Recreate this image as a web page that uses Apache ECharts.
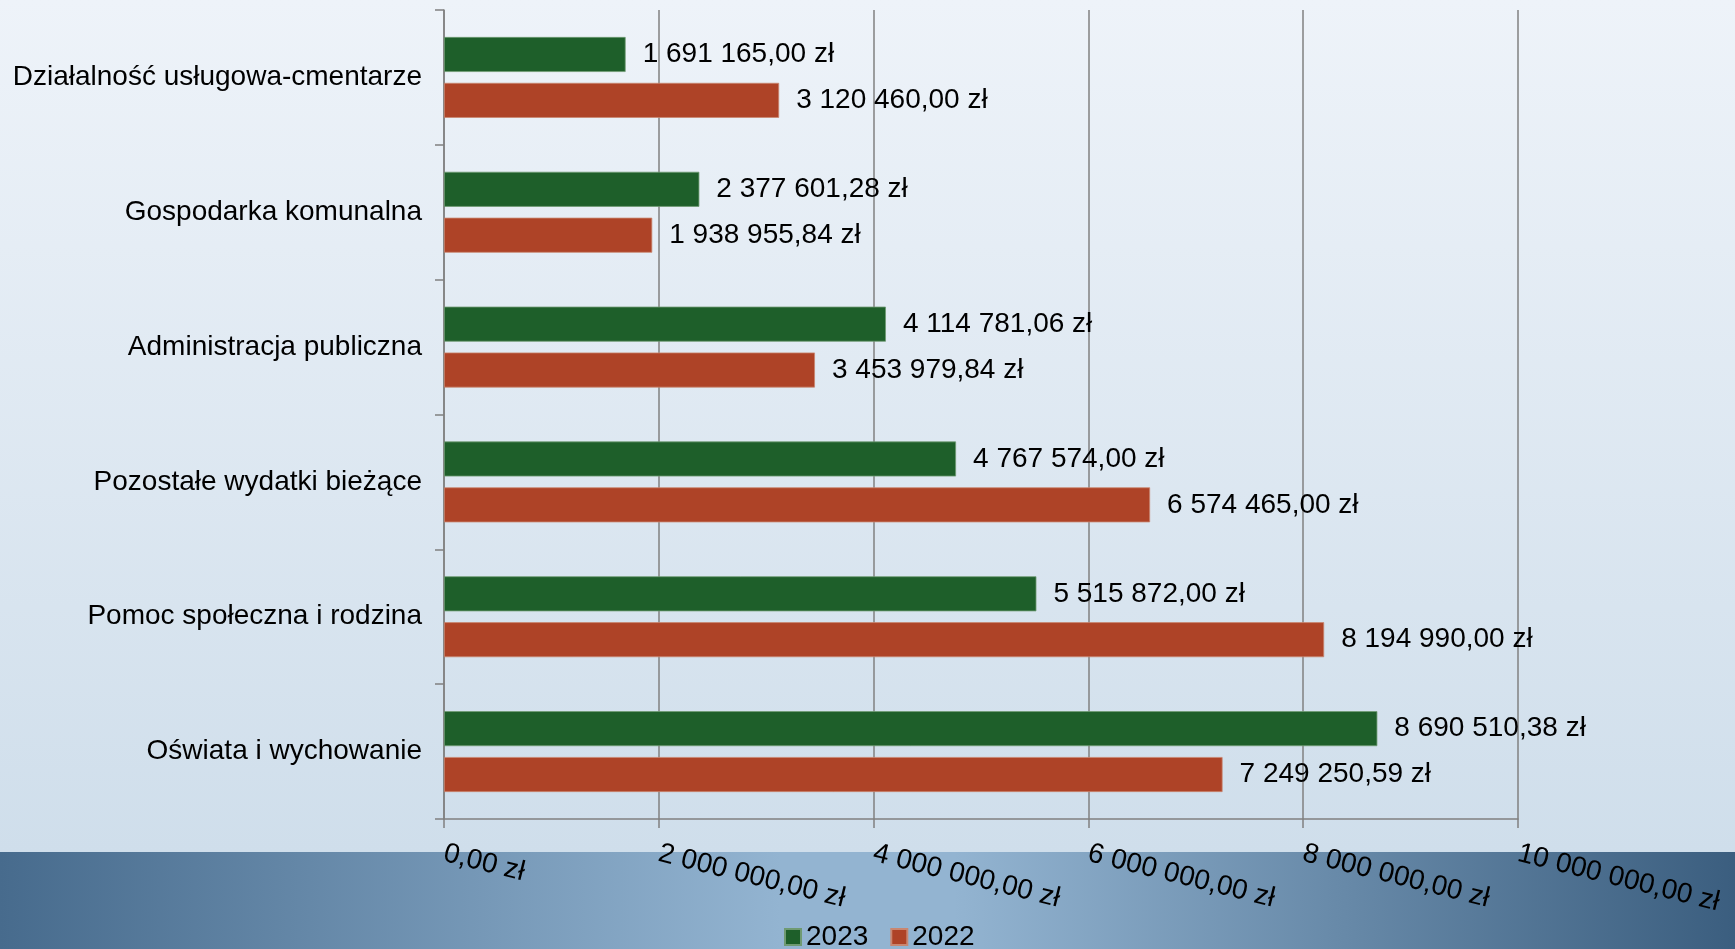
<!DOCTYPE html>
<html>
<head>
<meta charset="utf-8">
<title>Wydatki 2022-2023</title>
<script src="https://cdn.jsdelivr.net/npm/echarts@6/dist/echarts.min.js"></script>
<style>
html, body { margin: 0; padding: 0; }
#chart { width: 1735px; height: 949px; }
</style>
</head>
<body>
<div id="chart"></div>
<script>
// kategorie od góry do dołu
var categories = [
	'Działalność usługowa-cmentarze',
	'Gospodarka komunalna',
	'Administracja publiczna',
	'Pozostałe wydatki bieżące',
	'Pomoc społeczna i rodzina',
	'Oświata i wychowanie'
]
var values2023 = [1691165.00, 2377601.28, 4114781.06, 4767574.00, 5515872.00, 8690510.38]
var values2022 = [3120460.00, 1938955.84, 3453979.84, 6574465.00, 8194990.00, 7249250.59]
var seriesNames = ['2023', '2022']
var axisTicks = [0, 2000000, 4000000, 6000000, 8000000, 10000000]

// 1234567.8 -> "1 234 567,80 zł"
function zl(v) {
	var parts = Number(v).toFixed(2).split('.')
	var int = parts[0].replace(/\B(?=(\d{3})+(?!\d))/g, ' ')
	return int + ',' + parts[1] + ' zł'
}

var chart = echarts.init(document.getElementById('chart'))
var font = 'Liberation Sans, Arial, sans-serif'

chart.setOption({
	backgroundColor: 'transparent',
	textStyle: { fontFamily: font },
	graphic: [
		{
			type: 'rect',
			z: -10,
			shape: { x: 0, y: 0, width: 1735, height: 852 },
			style: {
				fill: new echarts.graphic.LinearGradient(0, 0, 0, 1, [
					{ offset: 0, color: '#eef3f9' },
					{ offset: 1, color: '#cfdeeb' }
				])
			}
		},
		{
			type: 'rect',
			z: -10,
			shape: { x: 0, y: 852, width: 1735, height: 97 },
			style: {
				fill: new echarts.graphic.LinearGradient(0, 0, 1, 0, [
					{ offset: 0, color: '#476b8d' },
					{ offset: 0.45, color: '#93b4d1' },
					{ offset: 0.55, color: '#93b4d1' },
					{ offset: 1, color: '#3b5e7f' }
				])
			}
		}
	],
	legend: {
		data: seriesNames,
		top: 918,
		left: 779,
		icon: 'rect',
		itemWidth: 16,
		itemHeight: 16,
		itemGap: 22,
		textStyle: { fontSize: 28, color: '#000', fontFamily: font }
	},
	grid: {
		left: 444,
		right: 217,
		top: 10,
		bottom: 130,
		containLabel: false
	},
	xAxis: {
		type: 'value',
		min: axisTicks[0],
		max: axisTicks[axisTicks.length - 1],
		interval: axisTicks[1] - axisTicks[0],
		axisLine: { show: true, lineStyle: { color: '#808080', width: 1.5 } },
		axisTick: { show: true, length: 9, lineStyle: { color: '#808080', width: 1.5 } },
		splitLine: { show: true, lineStyle: { color: '#808080', width: 1.5 } },
		axisLabel: {
			rotate: -14,
			margin: 34,
			fontSize: 28,
			color: '#000',
			fontFamily: font,
			formatter: zl
		}
	},
	yAxis: {
		type: 'category',
		inverse: true,
		data: categories,
		axisLine: { show: true, lineStyle: { color: '#808080', width: 1.5 } },
		axisTick: { show: true, length: 9, lineStyle: { color: '#808080', width: 1.5 } },
		axisLabel: {
			margin: 22,
			fontSize: 28,
			color: '#000',
			fontFamily: font
		}
	},
	series: [
		{
			name: seriesNames[0],
			type: 'bar',
			data: values2023,
			barGap: '31%',
			barCategoryGap: '40%',
			itemStyle: { color: '#1e5f2a', borderColor: '#6f9a72', borderWidth: 0.8 },
			label: {
				show: true,
				position: 'right',
				distance: 17,
				fontSize: 28,
				color: '#000',
				fontFamily: font,
				formatter: function (p) { return zl(p.value) }
			}
		},
		{
			name: seriesNames[1],
			type: 'bar',
			data: values2022,
			barGap: '31%',
			barCategoryGap: '40%',
			itemStyle: { color: '#ae4327', borderColor: '#c98670', borderWidth: 0.8 },
			label: {
				show: true,
				position: 'right',
				distance: 17,
				fontSize: 28,
				color: '#000',
				fontFamily: font,
				formatter: function (p) { return zl(p.value) }
			}
		}
	]
})
</script>
</body>
</html>
